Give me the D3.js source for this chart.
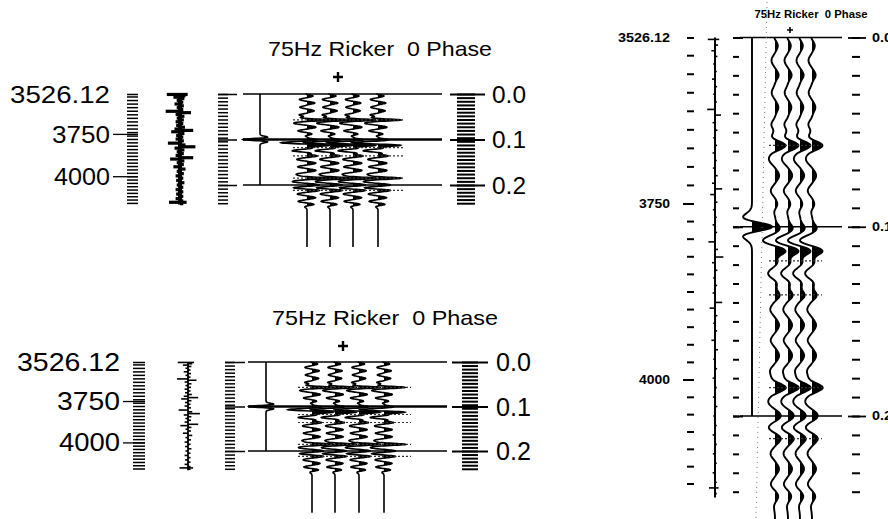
<!DOCTYPE html>
<html>
<head>
<meta charset="utf-8">
<script src="https://cdn.jsdelivr.net/npm/d3@7"></script>
<style>
  body { margin: 0; background: #fff; }
  svg { display: block; }
  text { font-family: "Liberation Sans", Arial, sans-serif; fill: #000; white-space: pre; }
</style>
</head>
<body>
<div id="chart"></div>
<script>
// ---- data ----
const title = "75Hz Ricker  0 Phase";
const waveletFreq = 75;      // Hz
const waveletTime = 0.1;     // s, where the wavelet is displayed
const timeLabels = [0.0, 0.1, 0.2];
const depthLabels = [3526.12, 3750, 4000];

// time-depth table (m -> s)
const depthPts = [3526.12, 3750, 4000, 4170];
const timePts = [0, 0.0877, 0.1807, 0.243];

// reflection coefficients used for the synthetic traces [time s, relative amplitude]
const reflect = [
  [0.004, 0.35], [0.012, -0.40], [0.020, 0.45], [0.029, -0.40], [0.037, 0.40],
  [0.046, -0.50], [0.057, 1.50], [0.065, -0.55], [0.073, 0.45], [0.081, -0.50],
  [0.089, 0.40], [0.095, 0.45], [0.100, 0.60], [0.107, -1.00], [0.113, 1.60],
  [0.118, 0.90], [0.125, -0.60], [0.131, 0.40], [0.136, 0.80], [0.144, -0.50],
  [0.152, 0.45], [0.160, -0.50], [0.168, 0.45], [0.176, -0.55], [0.185, 1.50],
  [0.193, -0.60], [0.200, 0.50], [0.206, -0.50], [0.212, 0.60], [0.220, -0.50],
  [0.228, 0.45], [0.236, -0.45], [0.243, 0.35]
];

// log column spikes [time s, relative amplitude]
const logSpikes = [
  [0.001, -1.2], [0.001, 0.7],
  [0.004, 0.5], [0.007, -0.6], [0.010, 0.4], [0.014, -0.3], [0.018, 0.3], [0.022, -0.5],
  [0.026, 0.35], [0.030, -0.3], [0.034, 0.3], [0.038, -1.3], [0.041, 1.0], [0.045, -0.4],
  [0.049, 0.4], [0.053, -0.3], [0.057, 0.35], [0.061, -0.4], [0.065, 0.3], [0.069, -0.35],
  [0.073, 0.45], [0.077, -0.5], [0.080, 1.2], [0.083, -0.8], [0.087, 0.4], [0.091, -0.35],
  [0.095, 0.3], [0.099, -0.4], [0.103, 0.35], [0.108, -1.1], [0.112, 0.5], [0.116, 1.4],
  [0.119, -0.5], [0.123, 0.4], [0.127, -0.3], [0.131, 0.35], [0.135, -0.4], [0.140, 1.2],
  [0.143, -0.9], [0.147, 0.4], [0.151, -0.3], [0.155, 0.35], [0.160, -0.6], [0.165, 0.5],
  [0.170, -0.3], [0.175, 0.35], [0.180, -0.4], [0.185, 0.3], [0.190, -0.35], [0.195, 0.4],
  [0.200, -0.3], [0.205, 0.3], [0.210, -0.4], [0.215, 0.3], [0.220, -0.35], [0.225, 0.3],
  [0.230, -0.4], [0.235, 0.3], [0.238, -1.0], [0.238, 0.6], [0.241, 0.3]
];

// horizons marked with dotted lines across the traces
const markerTimes = [0.057, 0.118, 0.136, 0.185, 0.212];

// ---- layout ----
const W = 888, H = 519;
const svg = d3.select("#chart").append("svg").attr("width", W).attr("height", H);

const panels = [
  { y0: 94, y2: 185, bold: false,
    titleX: 380, titleY: 56, titleSize: 21, titleLen: 224, plusX: 338, plusY: 77, plusR: 5,
    labelSize: 24, depthLabelX: 110, depthLens: [100, 58, 56],
    depthRulerX: 127, depthRulerLen: 11, depthStep: 20, majorX0: 113, tickW: 1.5,
    logX: 180, logGain: 11, logW: 3.2, logLineW: 4,
    tRulerX: 218, tRulerLen: 10, tLongLen: 19, tStep: 0.008,
    boxX0: 243, boxX1: 442, waveX: 260, waveGain: -17,
    traceX: [307, 330, 353, 378], gain: 14, tEnd: 0.336, traceW: 1.6,
    markL: 14, markR: 27,
    rRulerX: 457, rRulerLen: 18, rLongX: 450, rLongLen: 35, rTickW: 2,
    labelX: 492, tLabelLen: 34, line01W: 2.6 },
  { y0: 362, y2: 451, bold: false,
    titleX: 385, titleY: 325, titleSize: 21, titleLen: 226, plusX: 343, plusY: 346, plusR: 5,
    labelSize: 25, depthLabelX: 120, depthLens: [103, 63, 61],
    depthRulerX: 133, depthRulerLen: 12, depthStep: 20, majorX0: 123, tickW: 1.5,
    logX: 188, logGain: 8.5, logW: 1.6, logLineW: 1.8,
    tRulerX: 225, tRulerLen: 10, tLongLen: 20, tStep: 0.008,
    boxX0: 248, boxX1: 447, waveX: 266, waveGain: -17,
    traceX: [312, 335, 359, 384], gain: 13, tEnd: 0.339, traceW: 1.6,
    markL: 14, markR: 27,
    rRulerX: 462, rRulerLen: 16, rLongX: 452, rLongLen: 36, rTickW: 2,
    labelX: 496, tLabelLen: 35, line01W: 2.6 },
  { y0: 37.5, y2: 416, bold: true,
    titleX: 811, titleY: 18, titleSize: 10, titleLen: 113, plusX: 790, plusY: 30, plusR: 3,
    labelSize: 12, depthLabelX: 670, depthLens: [52, 31, 31],
    depthRulerX: 687, depthRulerLen: 7, depthStep: 25, majorX0: 683, tickW: 2,
    logX: 715, logGain: 6, logW: 1.6, logLineW: 2,
    tRulerX: 733, tRulerLen: 6, tLongLen: 10, tStep: 0.01,
    boxX0: 740, boxX1: 842, waveX: 752, waveGain: 20,
    traceX: [775, 788, 800, 812], gain: 6.5, tEnd: 0.26, traceW: 1.9,
    markL: 6, markR: 10,
    rRulerX: 852, rRulerLen: 8, rLongX: 848, rLongLen: 18, rTickW: 2,
    labelX: 872, tLabelLen: 20, line01W: 1.6 }
];

function ricker(tau) {
  const a = Math.pow(Math.PI * waveletFreq * tau, 2);
  return (1 - 2 * a) * Math.exp(-a);
}

function synth(t) {
  let s = 0;
  reflect.forEach(d => { s += d[1] * ricker(t - d[0]); });
  return s;
}

function ruler(g, scale, values, x, len, width) {
  const ax = d3.axisRight(scale).tickValues(values).tickSize(len).tickFormat("");
  const a = g.append("g").attr("transform", "translate(" + x + ",0)").call(ax);
  a.select(".domain").remove();
  a.selectAll("line").attr("stroke", "#000").attr("stroke-width", width);
  return a;
}

// wiggle trace with the positive lobes filled
function wiggle(g, y, base, gain, samples, width) {
  g.append("path")
    .datum(samples)
    .attr("fill", "#000")
    .attr("d", d3.area()
      .y(d => y(d.t))
      .x0(base)
      .x1(d => base + gain * Math.max(0, d.v)));
  g.append("path")
    .datum(samples)
    .attr("fill", "none")
    .attr("stroke", "#000")
    .attr("stroke-width", width)
    .attr("d", d3.line().x(d => base + gain * d.v).y(d => y(d.t)));
}

function drawPanel(p) {
  const g = svg.append("g");
  const y = d3.scaleLinear().domain([0, 0.2]).range([p.y0, p.y2]);
  const depthY = d3.scaleLinear().domain(depthPts).range(timePts.map(y));
  const tMax = timePts[timePts.length - 1];
  const weight = p.bold ? "bold" : "normal";

  // title and plus marker
  g.append("text")
    .attr("x", p.titleX).attr("y", p.titleY)
    .attr("text-anchor", "middle")
    .attr("font-size", p.titleSize).attr("font-weight", weight)
    .attr("textLength", p.titleLen).attr("lengthAdjust", "spacingAndGlyphs")
    .text(title);
  g.append("path")
    .attr("d", "M" + (p.plusX - p.plusR) + "," + p.plusY + "h" + (2 * p.plusR) +
               "M" + p.plusX + "," + (p.plusY - p.plusR) + "v" + (2 * p.plusR))
    .attr("stroke", "#000").attr("stroke-width", p.bold ? 1.6 : 2.4);

  // depth labels
  g.selectAll("text.depth")
    .data(depthLabels)
    .join("text")
    .classed("depth", true)
    .attr("x", p.depthLabelX)
    .attr("y", d => depthY(d))
    .attr("dy", "0.36em")
    .attr("text-anchor", "end")
    .attr("font-size", p.labelSize).attr("font-weight", weight)
    .attr("textLength", (d, i) => p.depthLens[i]).attr("lengthAdjust", "spacingAndGlyphs")
    .text(d => d);

  // depth ruler
  const dTicks = [depthPts[0]].concat(d3.range(Math.ceil(depthPts[0] / p.depthStep) * p.depthStep, depthPts[3] - 5, p.depthStep));
  ruler(g, depthY, dTicks, p.depthRulerX, p.depthRulerLen, p.tickW);
  ruler(g, depthY, depthLabels.slice(1), p.majorX0, p.depthRulerX + p.depthRulerLen - p.majorX0, p.bold ? 2 : 1.3);

  // log column
  g.append("line")
    .attr("x1", p.logX).attr("x2", p.logX)
    .attr("y1", y(0)).attr("y2", y(tMax))
    .attr("stroke", "#000").attr("stroke-width", p.logLineW);
  g.selectAll("line.spike")
    .data(logSpikes)
    .join("line")
    .classed("spike", true)
    .attr("x1", p.logX).attr("x2", d => p.logX + d[1] * p.logGain)
    .attr("y1", d => y(d[0])).attr("y2", d => y(d[0]))
    .attr("stroke", "#000").attr("stroke-width", p.logW);

  // time rulers
  const tTicks = d3.range(0, tMax + 0.0001, p.tStep);
  ruler(g, y, tTicks, p.tRulerX, p.tRulerLen, p.tickW);
  ruler(g, y, timeLabels, p.tRulerX, p.tLongLen, p.tickW);
  ruler(g, y, tTicks, p.rRulerX, p.rRulerLen, p.rTickW);
  ruler(g, y, timeLabels, p.rLongX, p.rLongLen, 1.8);

  // time lines
  g.selectAll("line.tline")
    .data(timeLabels)
    .join("line")
    .classed("tline", true)
    .attr("x1", p.boxX0).attr("x2", p.boxX1)
    .attr("y1", d => y(d)).attr("y2", d => y(d))
    .attr("stroke", "#000")
    .attr("stroke-width", d => d === 0.1 ? p.line01W : 1.6);

  g.selectAll("text.tlabel")
    .data(timeLabels)
    .join("text")
    .classed("tlabel", true)
    .attr("x", p.labelX)
    .attr("y", d => y(d))
    .attr("dy", "0.36em")
    .attr("font-size", p.labelSize).attr("font-weight", weight)
    .attr("textLength", p.tLabelLen).attr("lengthAdjust", "spacingAndGlyphs")
    .text(d3.format(".1f"));

  // wavelet trace
  const dt = 0.0004;
  const wSamples = d3.range(0, 0.2 + dt / 2, dt).map(t => ({ t: t, v: ricker(t - waveletTime) }));
  wiggle(g, y, p.waveX, p.waveGain, wSamples, p.traceW);

  // synthetic traces
  const samples = d3.range(0, p.tEnd + dt / 2, dt).map(t => ({ t: t, v: synth(t) }));
  p.traceX.forEach(x => wiggle(g, y, x, p.gain, samples, p.traceW));

  // horizon markers
  g.selectAll("line.marker")
    .data(markerTimes)
    .join("line")
    .classed("marker", true)
    .attr("x1", p.traceX[0] - p.markL).attr("x2", p.traceX[3] + p.markR)
    .attr("y1", d => y(d)).attr("y2", d => y(d))
    .attr("stroke", "#333").attr("stroke-width", 1.2)
    .attr("stroke-dasharray", "2,2");
}

panels.forEach(drawPanel);

// faint dotted guide through the right panel
svg.append("line")
  .attr("x1", 767).attr("y1", 2).attr("x2", 756).attr("y2", H)
  .attr("stroke", "#777").attr("stroke-width", 1)
  .attr("stroke-dasharray", "1,4");
</script>
</body>
</html>
